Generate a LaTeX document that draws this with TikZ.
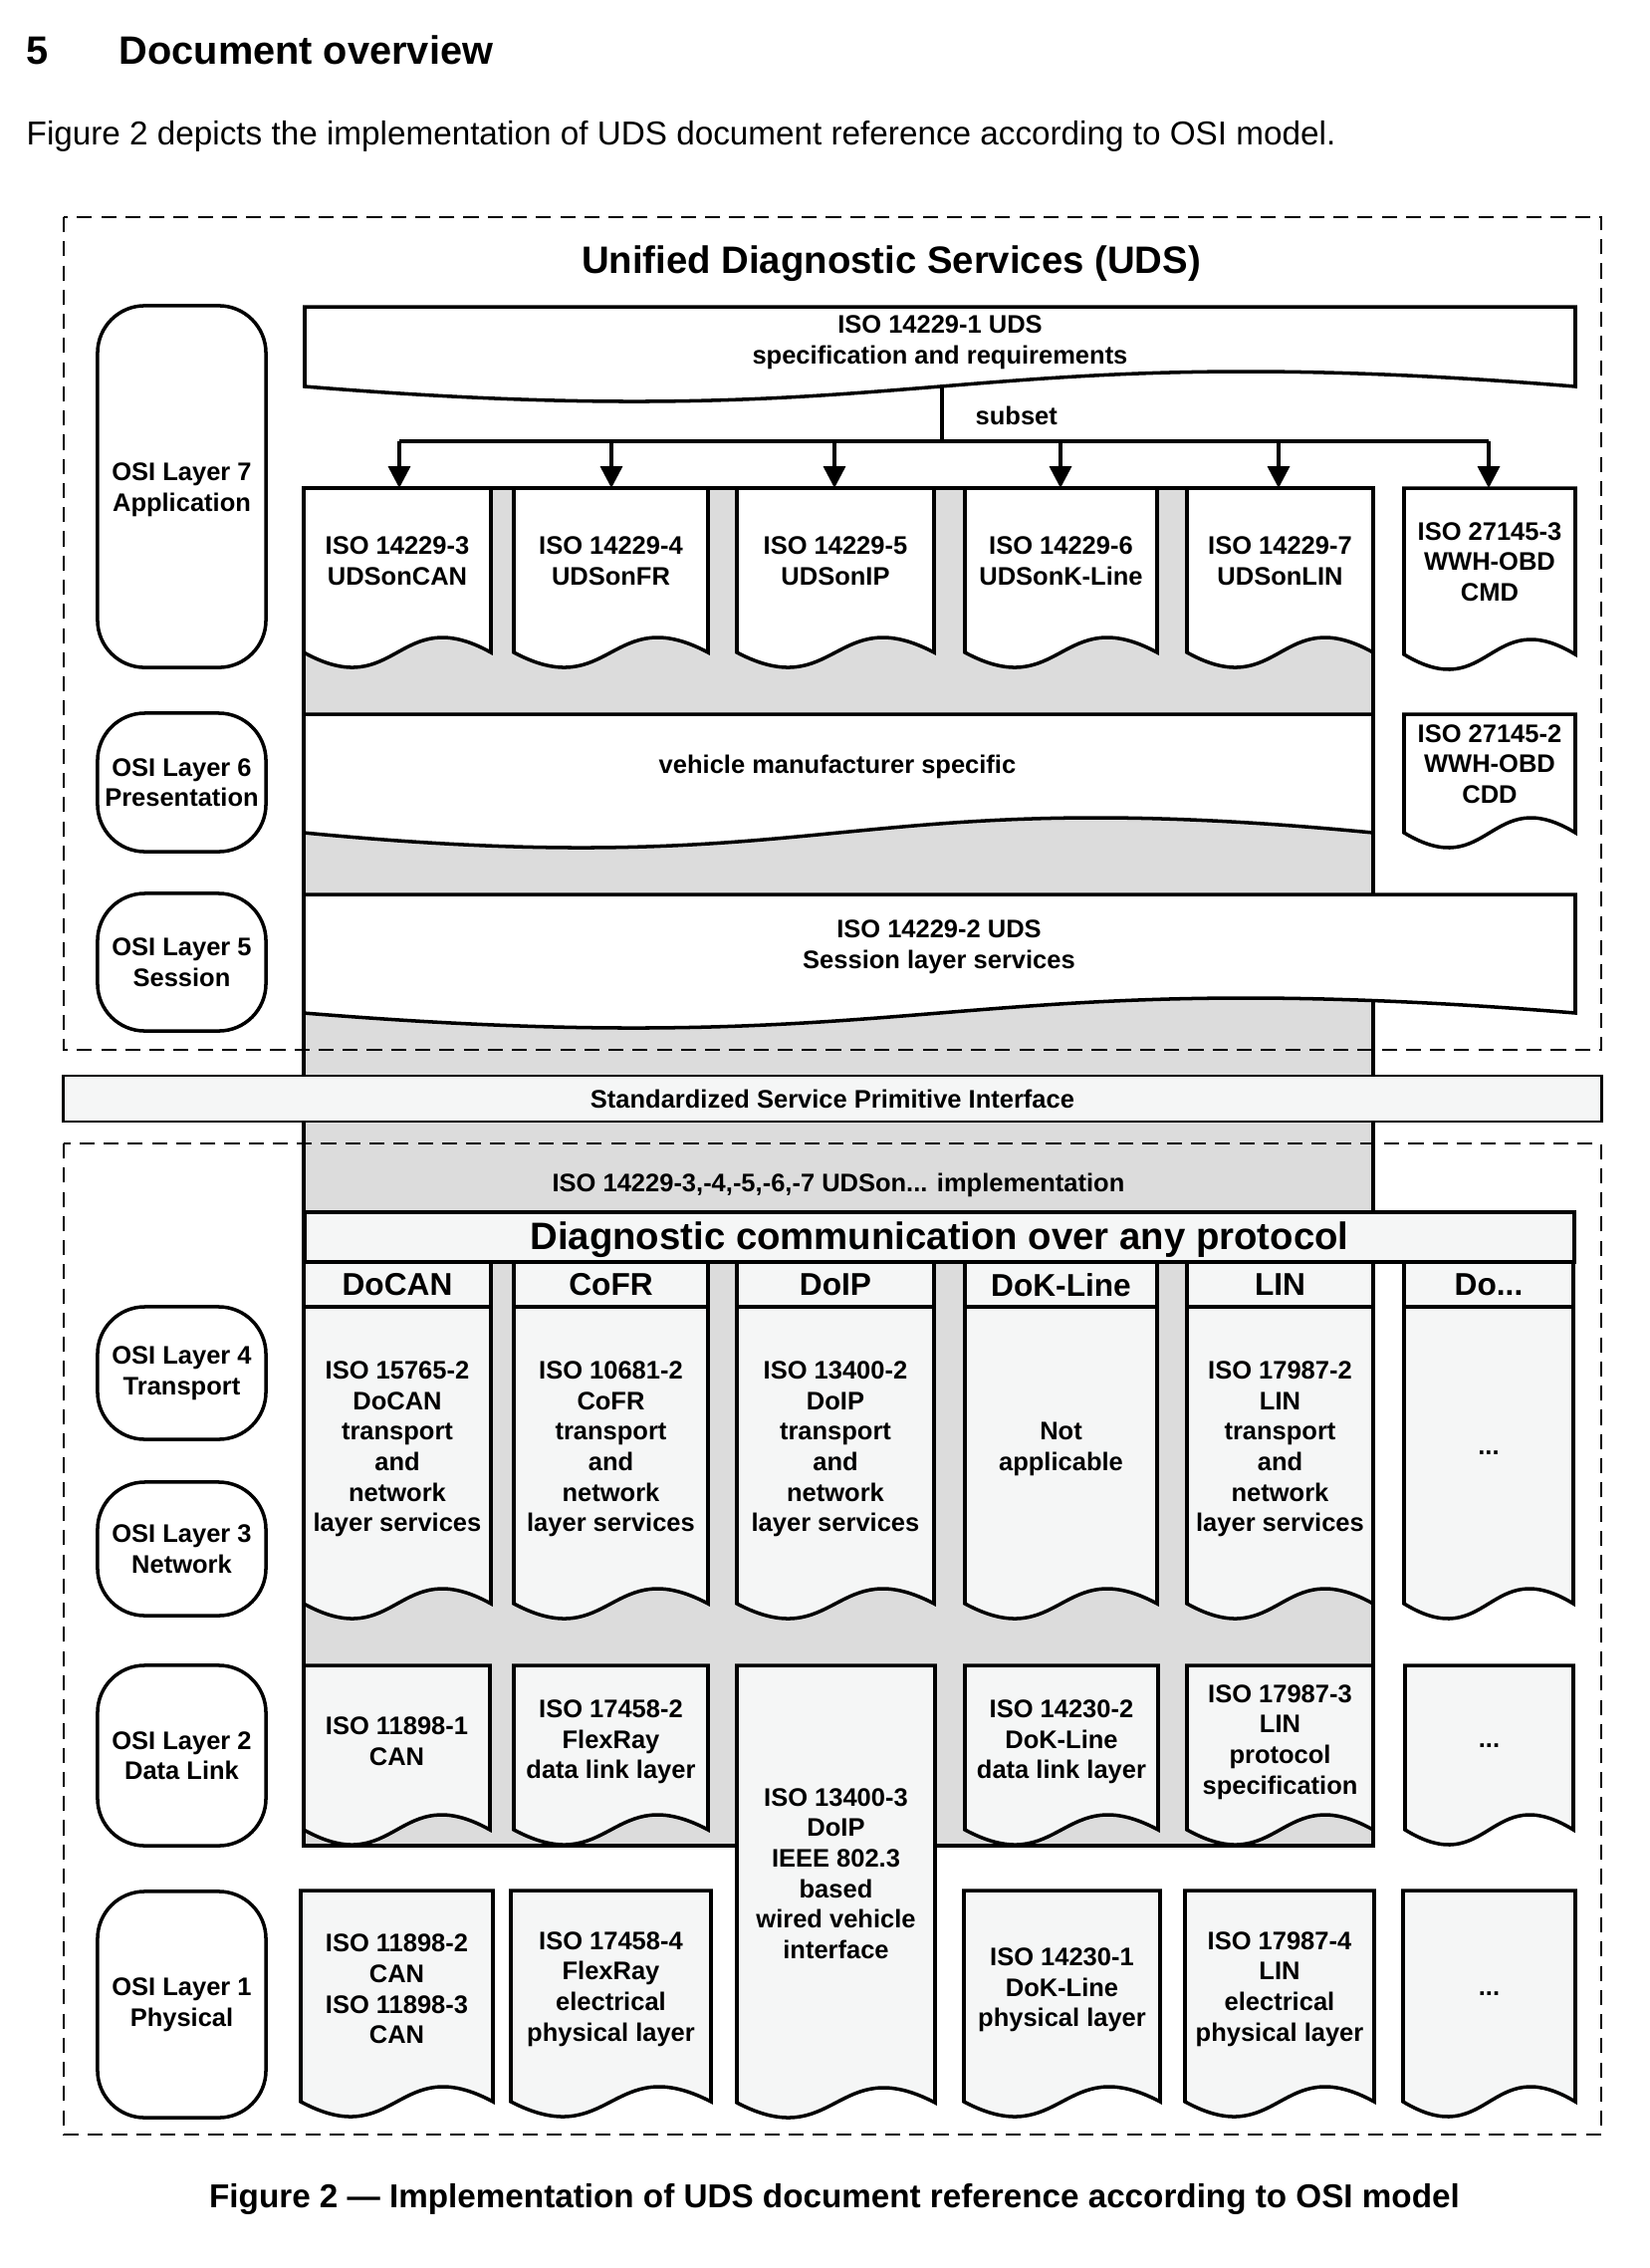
\documentclass[tikz,border=0pt]{standalone}
\usepackage{fontspec}
\setmainfont{Liberation Sans}
\usetikzlibrary{arrows.meta}
\definecolor{greyfill}{HTML}{DCDCDC}
\definecolor{lightfill}{HTML}{F5F6F6}
\newcommand{\docshape}[5]{%
  \filldraw[docline,fill=#5] (#1,#4) -- (#1,#2) -- (#3,#2) -- (#3,#4)
    .. controls ({(#1+#3)/2},{#4-52}) and ({(#1+#3)/2},{#4+52}) .. (#1,#4) -- cycle;}
\newcommand{\osistrut}{\rule{0pt}{6.9pt}}
\tikzset{
  docline/.style={line width=1pt,line join=miter},
  smalltxt/.style={font=\fontsize{7.25}{8.7}\selectfont\bfseries,align=center,inner sep=0pt},
  osibox/.style={draw,line width=1pt,rounded corners=13.5pt,fill=white,minimum width=1.69cm,smalltxt},
  dashbox/.style={line width=0.6pt,dash pattern=on 4.3pt off 2.6pt},
  hdrtxt/.style={font=\fontsize{9}{10.8}\selectfont\bfseries,inner sep=0pt},
  bigtxt/.style={font=\fontsize{10.9}{13}\selectfont\bfseries,inner sep=0pt},
  arr/.style={line width=1pt,-{Triangle[length=6.2pt,width=6.2pt]}},
}
\begin{document}
\begin{tikzpicture}[x=0.01cm,y=-0.01cm]
\useasboundingbox[fill=white] (0,0) rectangle (1657,2277);
% heading and texts
\node[anchor=base west,font=\fontsize{11.3}{13}\selectfont\bfseries,inner sep=0pt] (secnum) at (26,64.7) {5};
\node[anchor=base west,font=\fontsize{11.3}{13}\selectfont\bfseries,inner sep=0pt] (sectitle) at (119,64.7) {Document overview};
\node[anchor=base west,font=\fontsize{9.46}{11}\selectfont,inner sep=0pt] (intro) at (26,145) {Figure 2 depicts the implementation of UDS document reference according to OSI model.};
\node[anchor=base,font=\fontsize{9.45}{11}\selectfont\bfseries,inner sep=0pt] (caption) at (838,2216) {Figure 2 --- Implementation of UDS document reference according to OSI model};

% grey column
\filldraw[fill=greyfill,line width=1pt] (305,490) rectangle (1379,1853);

% dashed frames
\draw[dashbox] (64,218) rectangle (1608,1054);
\draw[dashbox] (64,1148) rectangle (1608,2143);

% SSPI bar
\node[draw,line width=0.7pt,fill=lightfill,minimum width=15.44cm,minimum height=0.46cm,smalltxt] (sspi) at (836,1103) {Standardized Service Primitive Interface};

% title
\node[anchor=base,bigtxt] (udstitle) at (895,274) {Unified Diagnostic Services (UDS)};

% ISO 14229-1
\docshape{306}{308}{1582}{388}{white}
\node[smalltxt] (iso1) at (944,344) {ISO 14229-1 UDS\\specification and requirements};

% subset tree
\coordinate (trunkA) at (946,388);
\coordinate (trunkB) at (946,443);
\draw[line width=1pt] (trunkA) -- (trunkB);
\node[anchor=west,smalltxt] (subsetlbl) at (979,417) {subset};
\foreach \i/\x in {1/401,2/614,3/838,4/1065,5/1284,6/1495}{
  \coordinate (bus\i) at (\x,443);
  \coordinate (top\i) at (\x,490);
}
\draw[line width=1pt] (bus1) -- (bus6);

% layer 7 boxes
\docshape{305}{490}{493}{655}{white}
\docshape{516}{490}{711}{655}{white}
\docshape{740}{490}{938}{655}{white}
\docshape{969}{490}{1162}{655}{white}
\docshape{1192}{490}{1379}{655}{white}
\docshape{1410}{490}{1582}{657}{white}
\node[smalltxt] (u3) at (399,563) {ISO 14229-3\\UDSonCAN};
\node[smalltxt] (u4) at (613.5,563) {ISO 14229-4\\UDSonFR};
\node[smalltxt] (u5) at (839,563) {ISO 14229-5\\UDSonIP};
\node[smalltxt] (u6) at (1065.5,563) {ISO 14229-6\\UDSonK-Line};
\node[smalltxt] (u7) at (1285.5,563) {ISO 14229-7\\UDSonLIN};
\node[smalltxt] (w3) at (1496,564) {ISO 27145-3\\WWH-OBD\\CMD};
\foreach \i in {1,...,6} \draw[arr] (bus\i) -- (top\i);

% layer 6
\docshape{305}{717}{1379}{836}{white}
\docshape{1410}{717}{1582}{836}{white}
\node[smalltxt] (vms) at (841,770) {vehicle manufacturer specific};
\node[smalltxt] (w2) at (1496,767) {ISO 27145-2\\WWH-OBD\\CDD};

% layer 5
\docshape{305}{898}{1582}{1017}{white}
\node[smalltxt] (iso2) at (943,951) {ISO 14229-2 UDS\\Session layer services};

% implementation
\node[smalltxt] (impl) at (842,1190) {ISO 14229-3,-4,-5,-6,-7 UDSon... implementation};

% diagnostic communication bar
\filldraw[fill=lightfill,line width=1pt] (306,1217) rectangle (1581,1267);
\node[anchor=base,bigtxt] (diagtxt) at (943.5,1254) {Diagnostic communication over any protocol};

% layer 4/3 columns
\foreach \l/\r in {305/493,516/711,740/938,969/1162,1192/1379,1410/1580}{
  \docshape{\l}{1267}{\r}{1610}{lightfill}
  \draw[line width=1pt] (\l,1312) -- (\r,1312);
}
\node[hdrtxt] (hcan) at (399,1290) {DoCAN};
\node[hdrtxt] (hfr) at (613.5,1290) {CoFR};
\node[hdrtxt] (hip) at (839,1290) {DoIP};
\node[hdrtxt] (hk) at (1065.5,1290) {DoK-Line};
\node[hdrtxt] (hlin) at (1285.5,1290) {LIN};
\node[hdrtxt] (hdo) at (1495,1290) {Do...};
\node[smalltxt] (t1) at (399,1455) {ISO 15765-2\\DoCAN\\transport\\and\\network\\layer services};
\node[smalltxt] (t2) at (613.5,1455) {ISO 10681-2\\CoFR\\transport\\and\\network\\layer services};
\node[smalltxt] (t3) at (839,1455) {ISO 13400-2\\DoIP\\transport\\and\\network\\layer services};
\node[smalltxt] (t4) at (1065.5,1455) {Not\\applicable};
\node[smalltxt] (t5) at (1285.5,1455) {ISO 17987-2\\LIN\\transport\\and\\network\\layer services};
\node[smalltxt,anchor=base] (t6) at (1495,1460) {...};

% layer 2
\docshape{305}{1672}{492}{1837}{lightfill}
\docshape{516}{1672}{711}{1837}{lightfill}
\docshape{969}{1672}{1163}{1837}{lightfill}
\docshape{1192}{1672}{1379}{1837}{lightfill}
\docshape{1411}{1672}{1580}{1837}{lightfill}
\docshape{740}{1672}{939}{2111}{lightfill}
\node[smalltxt] (d1) at (398.5,1748) {ISO 11898-1\\CAN};
\node[smalltxt] (d2) at (613.5,1749) {ISO 17458-2\\FlexRay\\data link layer};
\node[smalltxt] (d3) at (839.5,1881) {ISO 13400-3\\DoIP\\IEEE 802.3\\based\\wired vehicle\\interface};
\node[smalltxt] (d4) at (1066,1749) {ISO 14230-2\\DoK-Line\\data link layer};
\node[smalltxt] (d5) at (1285.5,1749) {ISO 17987-3\\LIN\\protocol\\specification};
\node[smalltxt,anchor=base] (d6) at (1495.5,1754) {...};

% layer 1
\docshape{302}{1898}{495}{2110}{lightfill}
\docshape{513}{1898}{714}{2110}{lightfill}
\docshape{968}{1898}{1165}{2110}{lightfill}
\docshape{1190}{1898}{1380}{2110}{lightfill}
\docshape{1409}{1898}{1582}{2110}{lightfill}
\node[smalltxt] (p1) at (398.5,1997) {ISO 11898-2\\CAN\\ISO 11898-3\\CAN};
\node[smalltxt] (p2) at (613.5,1997) {ISO 17458-4\\FlexRay\\electrical\\physical layer};
\node[smalltxt] (p4) at (1066.5,1998) {ISO 14230-1\\DoK-Line\\physical layer};
\node[smalltxt] (p5) at (1285,1997) {ISO 17987-4\\LIN\\electrical\\physical layer};
\node[smalltxt,anchor=base] (p6) at (1495.5,2003) {...};

% OSI layer boxes
\node[osibox,minimum height=3.63cm] (osi7) at (182.5,488.5) {\osistrut OSI Layer 7\\Application};
\node[osibox,minimum height=1.39cm] (osi6) at (182.5,785.5) {OSI Layer 6\\Presentation};
\node[osibox,minimum height=1.38cm] (osi5) at (182.5,966) {OSI Layer 5\\Session};
\node[osibox,minimum height=1.33cm] (osi4) at (182.5,1378.5) {OSI Layer 4\\Transport};
\node[osibox,minimum height=1.34cm] (osi3) at (182.5,1555) {OSI Layer 3\\Network};
\node[osibox,minimum height=1.81cm] (osi2) at (182.5,1762.5) {OSI Layer 2\\Data Link};
\node[osibox,minimum height=2.27cm] (osi1) at (182.5,2012.5) {OSI Layer 1\\Physical};
\end{tikzpicture}
\end{document}
